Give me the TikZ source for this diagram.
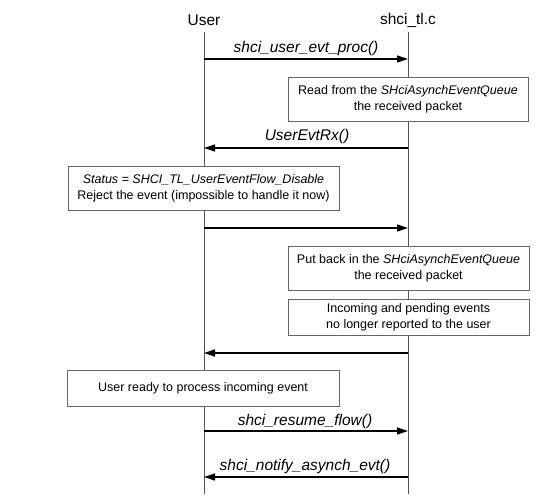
\documentclass[tikz,border=0pt]{standalone}
\usepackage{fontspec}
\setmainfont{Liberation Sans}
\usetikzlibrary{arrows.meta}
\definecolor{lifegray}{HTML}{555555}
\definecolor{boxgray}{HTML}{666666}
\begin{document}
\begin{tikzpicture}[x=1pt,y=-1pt,
  title/.style={font=\fontsize{15.5}{18}\selectfont, inner sep=0pt},
  lifeline/.style={draw=lifegray, line width=0.9pt},
  msg/.style={draw=black, line width=1.3pt, -{Triangle[length=11pt,width=7pt]}},
  msglabel/.style={font=\fontsize{15.5}{18}\selectfont\itshape, inner sep=0pt},
  notebox/.style={draw=boxgray, line width=0.9pt, fill=white, align=center,
    font=\fontsize{12.5}{16}\selectfont, inner sep=0pt}]
\useasboundingbox (0,0) rectangle (558,501);
% titles
\node[title] (user) at (204,20) {User};
\node[title] (shci) at (408,20) {shci\_tl.c};
% lifelines
\coordinate (utop) at (204,32);
\coordinate (ubot) at (204,494);
\coordinate (stop) at (408,32);
\coordinate (sbot) at (408,494);
\draw[lifeline] (utop) -- (ubot);
\draw[lifeline] (stop) -- (sbot);
% message anchors
\coordinate (u1) at (204,59);  \coordinate (s1) at (408,59);
\coordinate (u2) at (204,148); \coordinate (s2) at (408,148);
\coordinate (u3) at (204,228); \coordinate (s3) at (408,228);
\coordinate (u4) at (204,353); \coordinate (s4) at (408,353);
\coordinate (u5) at (204,431); \coordinate (s5) at (408,431);
\coordinate (u6) at (204,477); \coordinate (s6) at (408,477);
% messages
\draw[msg] (u1) -- (s1);
\node[msglabel] (l1) at (306,48) {shci\_user\_evt\_proc()};
\draw[msg] (s2) -- (u2);
\node[msglabel] (l2) at (307,136) {UserEvtRx()};
\draw[msg] (u3) -- (s3);
\draw[msg] (s4) -- (u4);
\draw[msg] (u5) -- (s5);
\node[msglabel] (l5) at (305,421) {shci\_resume\_flow()};
\draw[msg] (s6) -- (u6);
\node[msglabel] (l6) at (305,466) {shci\_notify\_asynch\_evt()};
% notes
\node[notebox, minimum width=240, minimum height=44] (b1) at (408,99)
  {Read from the \textit{SHciAsynchEventQueue}\\the received packet};
\node[notebox, minimum width=271, minimum height=44] (b2) at (203.5,188)
  {\textit{Status = SHCI\_TL\_UserEventFlow\_Disable}\\Reject the event (impossible to handle it now)};
\node[notebox, minimum width=241, minimum height=44] (b3) at (408.5,268)
  {Put back in the \textit{SHciAsynchEventQueue}\\the received packet};
\node[notebox, minimum width=241, minimum height=36] (b4) at (408.5,317)
  {Incoming and pending events\\no longer reported to the user};
\node[notebox, minimum width=272, minimum height=36] (b5) at (203,388)
  {User ready to process incoming event};
\end{tikzpicture}
\end{document}
